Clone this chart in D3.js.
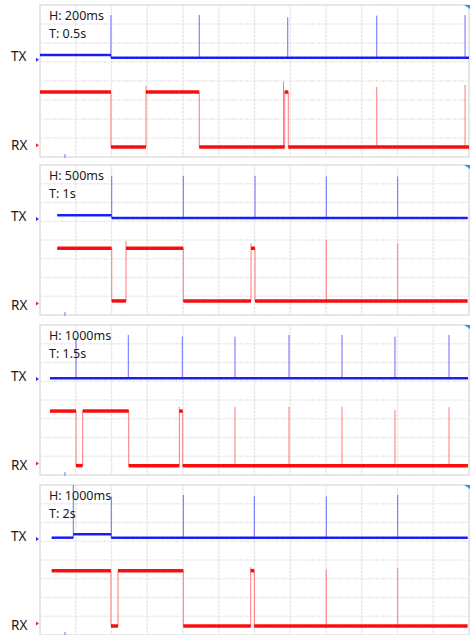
<!DOCTYPE html>
<html>
<head>
<meta charset="utf-8">
<title>TX / RX captures</title>
<style>
body { margin: 0; background: #fff; }
svg { display: block; }
text { font-family: 'Noto Sans', sans-serif; fill: #1a1a1a; }
</style>
</head>
<body>
<svg></svg>
<script src="https://d3js.org/d3.v7.min.js"></script>
<script>
// ms per horizontal division, and the labels shown in each capture
const hDiv = [200, 500, 1000, 1000];
const hLabel = ['H: 200ms', 'H: 500ms', 'H: 1000ms', 'H: 1000ms'];
const tLabel = ['T: 0.5s', 'T: 1s', 'T: 1.5s', 'T: 2s'];
const tStart = [0, 242, 280, 327];
const tEnd = [2400, 5981, 11972, 11962];

// levels in divisions (0 = bottom, 8 = top), each holds from its time on
const txSteps = [
  [[0, 5.37], [397, 5.23]],
  [[242, 5.32], [1003, 5.17]],
  [[280, 5.16]],
  [[327, 5.19], [931, 5.37], [1994, 5.19]]
];
const txSpikes = [
  [[397, 7.47], [891, 7.47], [1386, 7.35], [1884, 7.44], [2378, 7.47]],
  [[1003, 7.43], [2004, 7.43], [3007, 7.43], [4004, 7.38], [5003, 7.38]],
  [[1007, 7.3], [2470, 7.47], [3980, 7.38], [5455, 7.38], [6965, 7.47], [8448, 7.47], [9930, 7.38], [11441, 7.47]],
  [[931, 8], [1994, 7.38], [4009, 7.47], [5994, 7.42], [8008, 7.38], [10006, 7.48]]
];
const rxSteps = [
  [[0, 3.42], [397, 0.53], [593, 3.42], [891, 0.53], [1369, 3.42], [1389, 0.53]],
  [[242, 3.56], [1003, 0.75], [1203, 3.56], [2004, 0.75], [2951, 3.56], [3007, 0.75]],
  [[280, 3.41], [1007, 0.5], [1194, 3.41], [2481, 0.5], [3897, 3.41], [3992, 0.5]],
  [[327, 3.43], [1986, 0.48], [2182, 3.43], [4009, 0.48], [5894, 3.43], [5994, 0.48]]
];
const rxSpikes = [
  [[593, 3.74], [1362, 3.95], [1884, 3.68], [2378, 3.79]],
  [[1203, 3.95], [2951, 3.82], [4004, 4.0], [5003, 3.82]],
  [[3897, 3.64], [5455, 3.64], [6965, 3.64], [8448, 3.64], [9930, 3.47], [11441, 3.62]],
  [[5894, 3.61], [8008, 3.5], [10006, 3.59]]
];

const panelTop = [5, 165, 325, 485];
const panelH = [152, 150, 150, 150];
const left = 40, right = 469;

const svg = d3.select('svg').attr('width', 473).attr('height', 635);

const levelAt = (steps, t) => {
  let v = steps[0][1];
  steps.forEach(s => { if (s[0] <= t) v = s[1]; });
  return v;
};

function trace(g, x, y, steps, spikes, t0, t1, col, thin, w) {
  // fast transitions are drawn thin and light
  steps.slice(1).forEach((s, i) => {
    g.append('line')
      .attr('x1', x(s[0])).attr('x2', x(s[0]))
      .attr('y1', y(steps[i][1])).attr('y2', y(s[1]))
      .attr('stroke', thin).attr('stroke-width', 1);
  });
  spikes.forEach(s => {
    g.append('line')
      .attr('x1', x(s[0])).attr('x2', x(s[0]))
      .attr('y1', y(levelAt(steps, s[0]))).attr('y2', y(s[1]))
      .attr('stroke', thin).attr('stroke-width', 1);
  });
  steps.forEach((s, i) => {
    const a = Math.max(s[0], t0);
    const b = i < steps.length - 1 ? steps[i + 1][0] : t1;
    g.append('line')
      .attr('x1', x(a)).attr('x2', x(b))
      .attr('y1', y(s[1])).attr('y2', y(s[1]))
      .attr('stroke', col).attr('stroke-width', w);
    g.append('line')
      .attr('x1', x(a)).attr('x2', x(b))
      .attr('y1', y(s[1])).attr('y2', y(s[1]))
      .attr('stroke', d3.color(col).darker(0.6)).attr('stroke-width', 1)
      .attr('stroke-dasharray', '2,3');
  });
}

hDiv.forEach((h, p) => {
  const top = panelTop[p], bot = top + panelH[p];
  const x = d3.scaleLinear([0, 12 * h], [left, right]);
  const y = d3.scaleLinear([0, 8], [bot, top]);
  const g = svg.append('g');

  // grid
  const gx = d3.range(0, 12 * h + 1, h);
  const gy = d3.range(0, 9);
  g.selectAll('.vg').data(gx).join('line')
    .attr('x1', d => x(d)).attr('x2', d => x(d))
    .attr('y1', top).attr('y2', bot)
    .attr('stroke', '#eeeeee').attr('stroke-width', 1);
  g.selectAll('.hg').data(gy).join('line')
    .attr('x1', left).attr('x2', right)
    .attr('y1', d => y(d)).attr('y2', d => y(d))
    .attr('stroke', '#eeeeee').attr('stroke-width', 1);
  // minor ticks on grid lines
  g.selectAll('.vt').data(gx).join('line')
    .attr('x1', d => x(d)).attr('x2', d => x(d))
    .attr('y1', top).attr('y2', bot)
    .attr('stroke', '#e4e4e4').attr('stroke-width', 2)
    .attr('stroke-dasharray', `1,${(panelH[p] / 40) - 1}`);
  g.selectAll('.ht').data(gy).join('line')
    .attr('x1', left).attr('x2', right)
    .attr('y1', d => y(d)).attr('y2', d => y(d))
    .attr('stroke', '#e4e4e4').attr('stroke-width', 2)
    .attr('stroke-dasharray', `1,${(x(h) - x(0)) / 5 - 1}`);
  g.append('rect')
    .attr('x', left).attr('y', top).attr('width', right - left).attr('height', bot - top)
    .attr('fill', 'none').attr('stroke', '#e2e2e2').attr('stroke-width', 1.5);

  // traces
  trace(g, x, y, txSteps[p], txSpikes[p], tStart[p], tEnd[p], '#1e1eff', '#6a6aff', 2.5);
  trace(g, x, y, rxSteps[p], rxSpikes[p], tStart[p], tEnd[p], '#ff1010', '#ff7a7a', 3.5);

  // channel markers
  g.append('path')
    .attr('d', `M${left - 4},${y(5.12) - 2}L${left - 1},${y(5.12)}L${left - 4},${y(5.12) + 2}Z`)
    .attr('fill', '#2a2aff');
  g.append('path')
    .attr('d', `M${left - 4},${y(0.62) - 2}L${left - 1},${y(0.62)}L${left - 4},${y(0.62) + 2}Z`)
    .attr('fill', '#ff2020');
  g.append('path')
    .attr('d', `M${right - 5},${top}L${right + 1},${top}L${right + 1},${top + 4}Z`)
    .attr('fill', '#3a8cff');
  g.append('line')
    .attr('x1', 65).attr('x2', 65).attr('y1', bot - 3).attr('y2', bot + 1)
    .attr('stroke', '#7070ff').attr('stroke-width', 1);

  // texts
  g.append('text').attr('x', 49).attr('y', top + 14.5)
    .style('font-size', '12.5px').text(hLabel[p]);
  g.append('text').attr('x', 49).attr('y', top + 33)
    .style('font-size', '12.5px').text(tLabel[p]);
  g.append('text').attr('x', 11).attr('y', top + 56)
    .style('font-size', '13.5px').text('TX');
  g.append('text').attr('x', 11).attr('y', top + 145)
    .style('font-size', '13.5px').text('RX');
});
</script>
</body>
</html>
